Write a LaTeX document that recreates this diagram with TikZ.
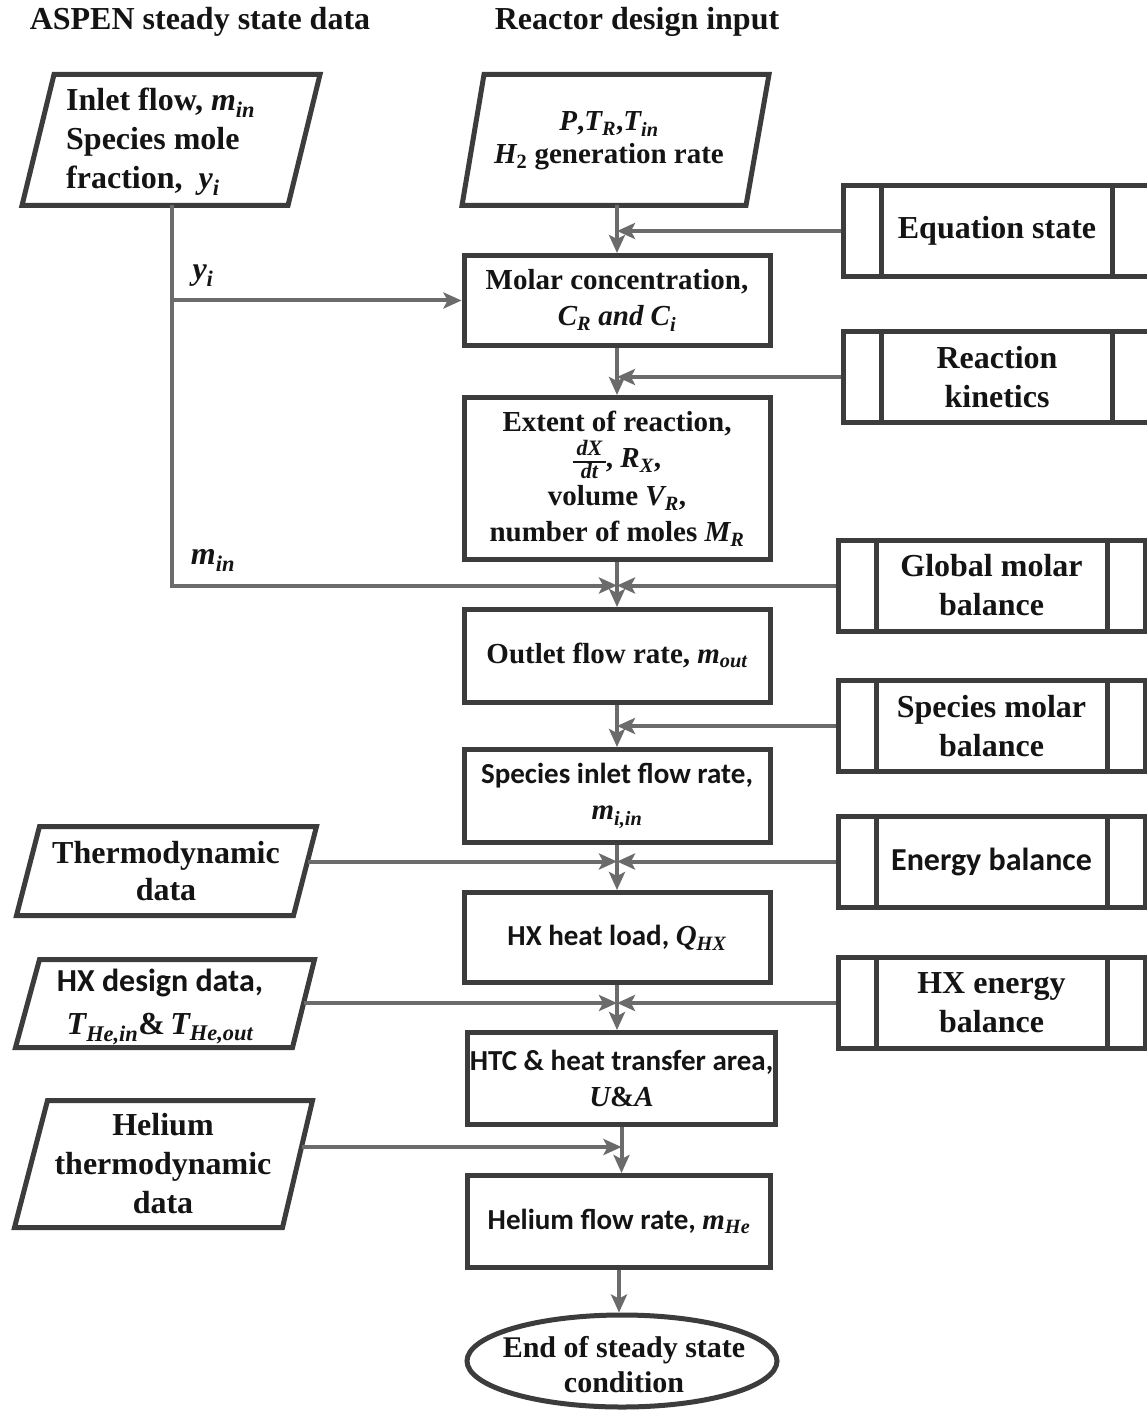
\documentclass[tikz,border=0pt]{standalone}
\usepackage{fontspec}
\usepackage{amsmath}
\setmainfont{Liberation Serif}
\newfontfamily\calfont{Carlito}
\usetikzlibrary{arrows.meta,shapes.geometric}
\definecolor{boxgray}{HTML}{3C3C3C}
\definecolor{linegray}{HTML}{6B6B6B}
\definecolor{inkblack}{HTML}{141414}
% bold italic variable with a bold italic subscript, always in the serif face
\newcommand\vsub[2]{{\rmfamily\bfseries\itshape #1\textsubscript{#2}}}
% small stacked derivative dX/dt
\newcommand\rate{{\fontsize{22}{22}\selectfont\itshape
  \setlength\arrayrulewidth{1.6pt}\renewcommand\arraystretch{0.9}%
  \begin{tabular}[c]{@{\,}c@{\,}}dX\\\hline dt\end{tabular}}}

\begin{document}
\begin{tikzpicture}[x=1pt, y={(0pt,-1pt)},
  outline/.style={draw=boxgray, line width=5pt, line join=miter},
  txtR/.style={text=inkblack, align=center, inner sep=0pt, font=\fontsize{32}{39}\selectfont\bfseries},
  fM/.style={font=\fontsize{29}{36}\selectfont\bfseries},
  fC/.style={font=\calfont\fontsize{29}{36}\selectfont\bfseries},
  procbox/.style={outline, rectangle, minimum width=306pt, minimum height=#1,
    inner sep=0pt, text=inkblack, align=center},
  subbox/.style={outline, rectangle, minimum width=307pt, minimum height=91pt,
    inner sep=0pt, align=center, text=inkblack, font=\fontsize{32}{39}\selectfont\bfseries,
    path picture={
      \draw[boxgray, line width=5pt]
        ([xshift=38pt]path picture bounding box.north west) -- ([xshift=38pt]path picture bounding box.south west)
        ([xshift=-38pt]path picture bounding box.north east) -- ([xshift=-38pt]path picture bounding box.south east);
    }},
  flow/.style={draw=linegray, line width=4pt,
    -{Stealth[length=18pt, width=16pt, inset=4pt]}}
]
\fill[white] (0,0) rectangle (1147,1412);
\useasboundingbox (0,0) rectangle (1147,1412);

% column headings
\node[txtR] (headA) at (200,22) {ASPEN steady state data};
\node[txtR] (headB) at (637,22) {Reactor design input};

% input data (parallelograms)
\draw[outline] (54,74.5) -- (320,74.5) -- (288,205.5) -- (22,205.5) -- cycle;
\node[txtR, align=left, anchor=west] (inlet) at (66,142)
  {Inlet flow, \vsub{m}{in}\\Species mole\\fraction,\ \ \vsub{y}{i}};
\coordinate (inletout) at (172,205.5);

\draw[outline] (484,74.5) -- (769,74.5) -- (746,205.5) -- (462,205.5) -- cycle;
\node[txtR, font=\fontsize{29}{33}\selectfont\bfseries] (design) at (609,141)
  {{\itshape P},\vsub{T}{R},\vsub{T}{in}\\{\itshape H}\textsubscript{2} generation rate};
\coordinate (designout) at (617,205.5);

\draw[outline] (39.5,826.5) -- (316.5,826.5) -- (293.5,915.5) -- (16.5,915.5) -- cycle;
\node[txtR, font=\fontsize{32}{37}\selectfont\bfseries] (thermo) at (166,871) {Thermodynamic\\data};
\coordinate (thermoout) at (307.5,861.5);

\draw[outline] (39.5,959.5) -- (314.5,959.5) -- (292.5,1047.5) -- (15.5,1047.5) -- cycle;
\node[txtR, font=\fontsize{32}{43}\selectfont\bfseries] (hxdata) at (160,1007)
  {{\calfont HX design data,}\\\vsub{T}{He,in}\&\,\vsub{T}{He,out}};
\coordinate (hxdataout) at (303.5,1003);

\draw[outline] (47.5,1100.5) -- (312.5,1100.5) -- (282.5,1227.5) -- (14.5,1227.5) -- cycle;
\node[txtR] (hethermo) at (163,1164) {Helium\\thermodynamic\\data};
\coordinate (hethermoout) at (301.5,1147);

% stream labels
\node[txtR] (ylabel) at (203,276) {\vsub{y}{i}};
\node[txtR] (mlabel) at (213,560) {\vsub{m}{in}};

% main calculation sequence
\node[procbox=90pt, fM] (molar) at (617,300.5)
  {Molar concentration,\\{\itshape C\textsubscript{R} and C\textsubscript{i}}};
\node[procbox=162pt, fM] (extent) at (617,478.5)
  {Extent of reaction,\\\rate, \vsub{R}{X},\\volume \vsub{V}{R},\\number of moles \vsub{M}{R}};
\node[procbox=93pt, fM] (outlet) at (617,656) {Outlet flow rate, \vsub{m}{out}};
\node[procbox=93pt, fC] (spin) at (617,796) {Species inlet flow rate,\\\vsub{m}{i,in}};
\node[procbox=90pt, fC] (load) at (617,937.5) {HX heat load, \vsub{Q}{HX}};
\node[procbox=92pt, fC, minimum width=308pt] (htc) at (621.5,1078.5)
  {HTC \& heat transfer area,\\{\rmfamily\itshape U}{\rmfamily\&}{\rmfamily\itshape A}};
\node[procbox=92pt, fC, minimum width=303pt] (heflow) at (619,1221.5) {Helium flow rate, \vsub{m}{He}};
\node[outline, ellipse, minimum width=310pt, minimum height=92pt, inner sep=0pt] (finish) at (622,1361) {};
\node[txtR, font=\fontsize{30}{35}\selectfont\bfseries] (finishlbl) at (624,1365) {End of steady state\\condition};

% model equations (predefined processes)
\node[subbox] (eqstate) at (997,231) {Equation state};
\node[subbox] (kinetics) at (997,377) {Reaction\\kinetics};
\node[subbox] (globalbal) at (991.5,585.5) {Global molar\\balance};
\node[subbox] (speciesbal) at (991.5,726) {Species molar\\balance};
\node[subbox, font=\calfont\fontsize{32}{39}\selectfont\bfseries] (energybal) at (991.5,861.5) {Energy balance};
\node[subbox] (hxbal) at (991.5,1003) {HX energy\\balance};

% vertical flow
\draw[flow] (designout) -- (molar.north);
\draw[flow] (molar.south) -- (extent.north);
\draw[flow] (extent.south) -- (outlet.north);
\draw[flow] (outlet.south) -- (spin.north);
\draw[flow] (spin.south) -- (load.north);
\draw[flow] (load.south) -- (load.south |- htc.north);
\draw[flow] (htc.south) -- (htc.south |- heflow.north);
\draw[flow] (heflow.south) -- (heflow.south |- finish.north);

% inputs from the model equations
\draw[flow] (eqstate.west) -- (eqstate.west -| molar.north);
\draw[flow] (kinetics.west) -- (kinetics.west -| extent.north);
\draw[flow] (globalbal.west) -- (globalbal.west -| outlet.north);
\draw[flow] (speciesbal.west) -- (speciesbal.west -| spin.north);
\draw[flow] (energybal.west) -- (energybal.west -| load.north);
\draw[flow] (hxbal.west) -- (hxbal.west -| load.south);

% inputs from the data sources
\draw[flow] (inletout |- molar.west) -- (molar.west);
\draw[flow] (inletout) -- (inletout |- globalbal.west) -- (globalbal.west -| outlet.north);
\draw[flow] (thermoout) -- (thermoout -| load.north);
\draw[flow] (hxdataout) -- (hxdataout -| load.south);
\draw[flow] (hethermoout) -- (hethermoout -| htc.south);
\end{tikzpicture}
\end{document}
